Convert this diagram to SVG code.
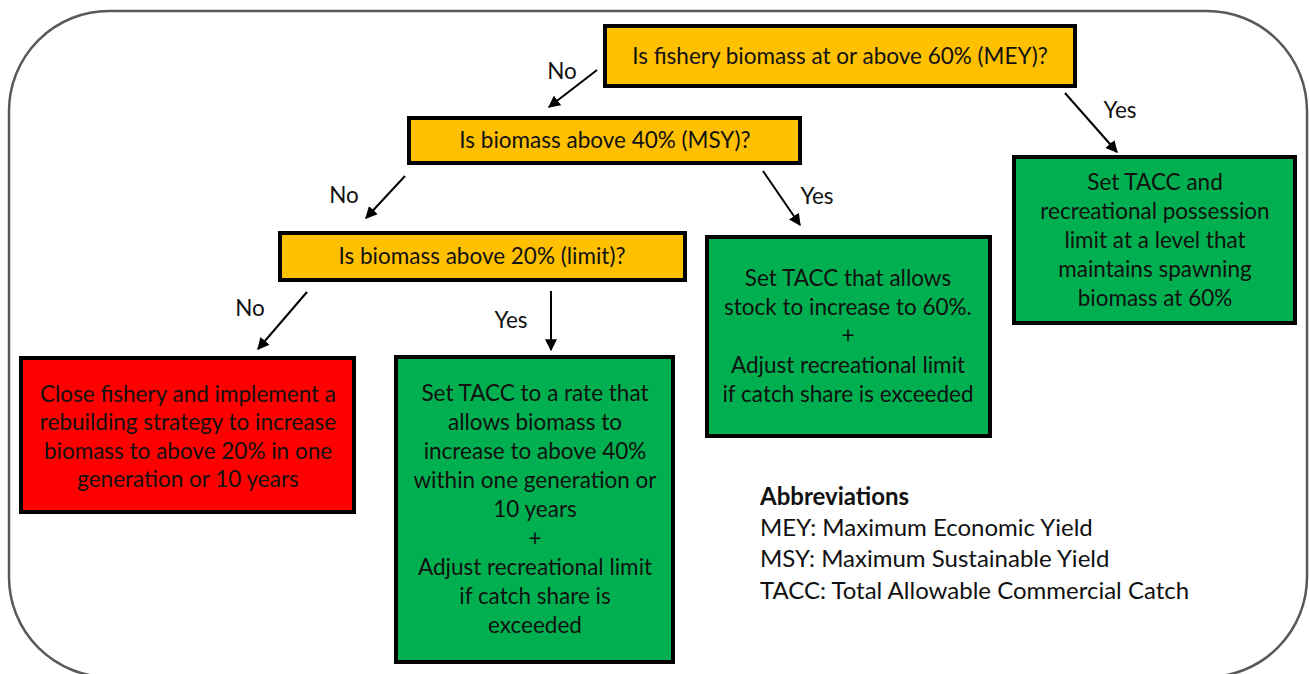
<svg xmlns="http://www.w3.org/2000/svg" width="1309" height="674" viewBox="0 0 1309 674">
<defs>
<style>
text{font-family:"Lato","Open Sans","Liberation Sans",sans-serif;font-size:22.5px;fill:#111;}
.c{text-anchor:middle;}
.ab{font-size:24px;}
.q{fill:#FFC000;stroke:#000;stroke-width:4;}
.g{fill:#00B050;stroke:#000;stroke-width:4;}
.r{fill:#FF0000;stroke:#000;stroke-width:4;}
.a{stroke:#000;stroke-width:2;fill:none;marker-end:url(#ah);}
</style>
<marker id="ah" viewBox="0 0 10 10" refX="9" refY="5" markerWidth="6" markerHeight="6" orient="auto" markerUnits="strokeWidth">
<path d="M0,0 L10,5 L0,10 z" fill="#000"/>
</marker>
</defs>
<rect x="9" y="11" width="1298" height="666" rx="100" ry="100" fill="#fff" stroke="#595959" stroke-width="2.5"/>
<g id="connectors">
<line class="a" x1="597" y1="70" x2="549" y2="107"/>
<line class="a" x1="1065" y1="93" x2="1117" y2="152"/>
<line class="a" x1="405" y1="176" x2="366" y2="218"/>
<line class="a" x1="763" y1="171" x2="800" y2="225"/>
<line class="a" x1="307" y1="292" x2="258" y2="349"/>
<line class="a" x1="551" y1="291" x2="551" y2="350"/>
<text x="562" y="79" class="c">No</text>
<text x="1120" y="118" class="c">Yes</text>
<text x="344" y="203" class="c">No</text>
<text x="817" y="204" class="c">Yes</text>
<text x="250" y="316" class="c">No</text>
<text x="511" y="328" class="c">Yes</text>
</g>
<g id="q1"><rect class="q" x="605" y="26" width="470" height="60"/><text x="840" y="64" class="c">Is fishery biomass at or above 60% (MEY)?</text></g>
<g id="q2"><rect class="q" x="409" y="118" width="391" height="45"/><text x="605" y="148" class="c">Is biomass above 40% (MSY)?</text></g>
<g id="q3"><rect class="q" x="280" y="233" width="405" height="47"/><text x="482" y="264" class="c">Is biomass above 20% (limit)?</text></g>
<g id="close"><rect class="r" x="21" y="358" width="333" height="154"/>
<text class="c" x="188" y="402">Close fishery and implement  a</text>
<text class="c" x="188" y="430">rebuilding strategy to increase</text>
<text class="c" x="188" y="459">biomass to above 20% in one</text>
<text class="c" x="188" y="487">generation or 10 years</text></g>
<g id="rebuild40"><rect class="g" x="396" y="357" width="277" height="305"/>
<text class="c" x="535" y="401">Set TACC to a rate that</text>
<text class="c" x="535" y="430">allows biomass to</text>
<text class="c" x="535" y="459">increase to above 40%</text>
<text class="c" x="535" y="488">within one generation or</text>
<text class="c" x="535" y="517">10 years</text>
<text class="c" x="535" y="546">+</text>
<text class="c" x="535" y="575">Adjust recreational limit</text>
<text class="c" x="535" y="604">if catch share is</text>
<text class="c" x="535" y="633">exceeded</text></g>
<g id="increase60"><rect class="g" x="707" y="237" width="283" height="199"/>
<text class="c" x="848" y="286">Set TACC that allows</text>
<text class="c" x="848" y="315">stock to increase to 60%.</text>
<text class="c" x="848" y="343">+</text>
<text class="c" x="848" y="373">Adjust recreational limit</text>
<text class="c" x="848" y="402">if catch share is exceeded</text></g>
<g id="maintain60"><rect class="g" x="1014" y="157" width="281" height="166"/>
<text class="c" x="1155" y="190">Set TACC and</text>
<text class="c" x="1155" y="219">recreational possession</text>
<text class="c" x="1155" y="248">limit at a level  that</text>
<text class="c" x="1155" y="277">maintains spawning</text>
<text class="c" x="1155" y="306">biomass at 60%</text></g>
<g id="abbreviations">
<text x="760" y="505" class="ab" font-weight="bold">Abbreviations</text>
<text x="760" y="536" class="ab">MEY: Maximum Economic Yield</text>
<text x="760" y="567" class="ab">MSY: Maximum Sustainable Yield</text>
<text x="760" y="599" class="ab">TACC: Total Allowable Commercial Catch</text>
</g>
</svg>
